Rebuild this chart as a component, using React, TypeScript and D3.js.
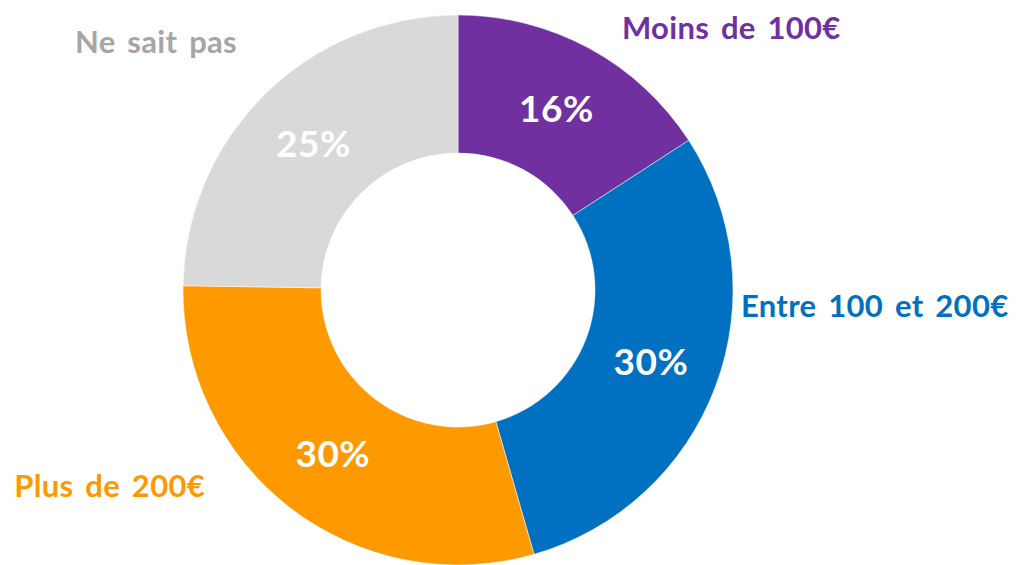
import React from "react";
import * as d3 from "d3";

// budget answers, clockwise from 12 o'clock
const categories = ["Moins de 100€", "Entre 100 et 200€", "Plus de 200€", "Ne sait pas"];
const shares = [16, 30, 30, 25];
const colors = ["#7030A0", "#0070C0", "#FF9900", "#D9D9D9"];
const labelColors = ["#7030A0", "#0070C0", "#FF9900", "#A6A6A6"];

// outside label placement, relative to the chart centre (dx, baseline dy, anchor)
const labelLayout: [number, number, string][] = [
  [164, -251, "start"],
  [283, 27, "start"],
  [-253, 207, "end"],
  [-221, -237, "end"],
];

const width = 1019;
const height = 565;
const cx = 458;
const cy = 290;
const outerR = 275;
const innerR = 137;
const font = "Lato, 'Open Sans', sans-serif";

export default function App() {
  const pie = d3
    .pie<number>()
    .sort(null)
    .value((d) => d);
  const arcs = pie(shares);

  const arc = d3
    .arc<d3.PieArcDatum<number>>()
    .innerRadius(innerR)
    .outerRadius(outerR);

  return (
    <svg
      width={width}
      height={height}
      style={{ position: "absolute", left: 0, top: 0, background: "#fff" }}
    >
      <g transform={`translate(${cx},${cy})`}>
        {arcs.map((a, i) => (
          <path key={i} d={arc(a) || ""} fill={colors[i]} stroke="#fff" strokeWidth={0.5} />
        ))}
        {arcs.map((a, i) => {
          const [x, y] = arc.centroid(a);
          return (
            <text
              key={"p" + i}
              x={x}
              y={y}
              dy="0.36em"
              textAnchor="middle"
              fill="#fff"
              fontFamily={font}
              fontWeight={700}
              fontSize={37}
              letterSpacing={0.5}
            >
              {a.data}%
            </text>
          );
        })}
        {categories.map((c, i) => (
          <text
            key={"l" + i}
            x={labelLayout[i][0]}
            y={labelLayout[i][1]}
            textAnchor={labelLayout[i][2]}
            fill={labelColors[i]}
            fontFamily={font}
            fontWeight={700}
            fontSize={31}
            letterSpacing={0.3}
            wordSpacing={4}
          >
            {c}
          </text>
        ))}
      </g>
    </svg>
  );
}
